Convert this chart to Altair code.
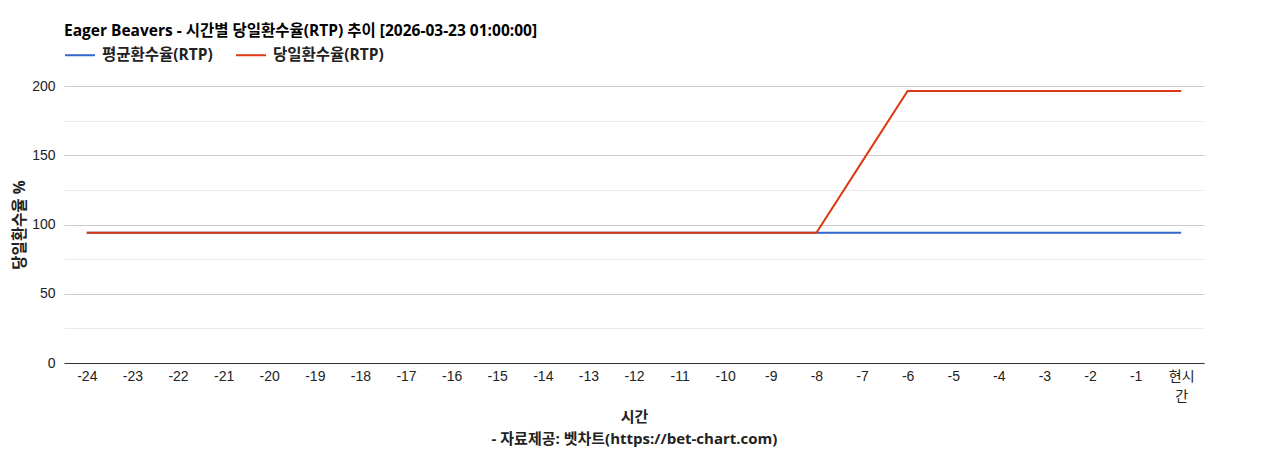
import altair as alt
import pandas

FONT = "Arial, 'Liberation Sans', 'Noto Sans CJK KR', sans-serif"
TITLE_FONT = "'Open Sans', 'Noto Sans CJK KR', sans-serif"

hours = [str(h) for h in range(-24, 0)] + ["현시간"]
series_names = ["평균환수율(RTP)", "당일환수율(RTP)"]
avg_rtp = [94.0] * 25
daily_rtp = [94.0] * 17 + [145.2] + [196.4] * 7
series_colors = ["#3366cc", "#dc3912"]

df = pandas.concat(
    [
        pandas.DataFrame({"hour": hours, "rtp": avg_rtp, "series": series_names[0]}),
        pandas.DataFrame({"hour": hours, "rtp": daily_rtp, "series": series_names[1]}),
    ]
)

base = alt.Chart(df).mark_line(strokeWidth=2).encode(
    alt.X(
        "hour:O",
        sort=hours,
        scale=alt.Scale(type="point", padding=0.5),
        axis=alt.Axis(
            title=["시간", "- 자료제공: 벳차트(https://bet-chart.com)"],
            titleFont=TITLE_FONT,
            titleFontSize=15,
            titleFontWeight="bold",
            titleColor="#222222",
            titleY=46,
            titleBaseline="top",
            titleLineHeight=22,
            labelAngle=0,
            labelFontSize=14,
            labelColor="#222222",
            labelPadding=6,
            labelExpr="datum.label == '현시간' ? ['현시', '간'] : datum.label",
            labelLineHeight=20,
            ticks=False,
            domainColor="#333333",
            grid=False,
        ),
    ),
    alt.Y(
        "rtp:Q",
        scale=alt.Scale(domain=[0, 200], nice=False),
        axis=alt.Axis(
            title="당일환수율 %",
            titleFont=TITLE_FONT,
            titleFontSize=15.5,
            titleFontWeight="bold",
            titleColor="#222222",
            titleX=-45,
            titleY=138.5,
            titleAngle=270,
            titleAlign="center",
            titleBaseline="middle",
            values=[0, 25, 50, 75, 100, 125, 150, 175, 200],
            labelExpr="datum.value % 50 == 0 ? datum.label : ''",
            labelFontSize=14,
            labelColor="#222222",
            labelPadding=9,
            ticks=False,
            domain=False,
            gridColor={
                "condition": {"test": "datum.value % 50 == 0", "value": "#cccccc"},
                "value": "#ebebeb",
            },
        ),
    ),
    alt.Color(
        "series:N",
        scale=alt.Scale(domain=series_names, range=series_colors),
        legend=alt.Legend(
            title=None,
            orient="top",
            direction="horizontal",
            symbolType="stroke",
            symbolStrokeWidth=2,
            symbolSize=900,
            labelFont=TITLE_FONT,
            labelFontSize=15.5,
            labelFontWeight="bold",
            labelColor="#222222",
            labelOffset=6,
            columnPadding=19,
            offset=22,
        ),
    ),
)

avg_line = base.transform_filter(alt.datum.series == series_names[0])
daily_line = base.transform_filter(alt.datum.series == series_names[1])

chart = (
    alt.layer(avg_line, daily_line)
    .properties(
        width=1140,
        height=277,
        autosize=alt.AutoSizeParams(type="none"),
        padding={"left": 56, "top": 78, "right": 56, "bottom": 85},
        title=alt.TitleParams(
            "Eager Beavers - 시간별 당일환수율(RTP) 추이 [2026-03-23 01:00:00]",
            anchor="start",
            frame="group",
            font=TITLE_FONT,
            fontSize=15.5,
            fontWeight="bold",
            color="#000000",
            offset=0,
        ),
    )
    .configure(font=FONT)
    .configure_view(stroke=None)
)

chart.save("out.html", embed_options={"renderer": "svg", "actions": False})
